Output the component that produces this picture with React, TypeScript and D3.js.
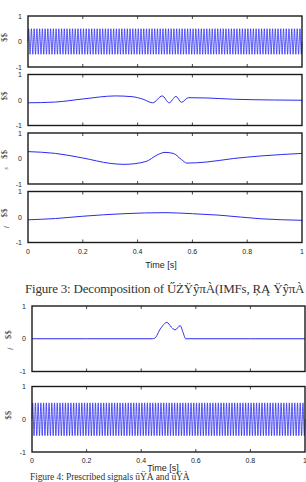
import * as d3 from 'd3';
import { useEffect } from 'react';

// values
const timeTicks = [0, 0.2, 0.4, 0.6, 0.8, 1];
const ampTicks = [-1, 0, 1];

// one period of the fast oscillation, and how many periods fit in 1 s
const carrierCycle = [0, 0.5, 0, -0.5];
const carrierPeriods = 100;

const imf2: [number, number][] = [
  [0, -0.11], [0.1, -0.08], [0.2, 0.04], [0.32, 0.16], [0.38, 0.13], [0.42, 0.03],
  [0.455, -0.11], [0.49, 0.16], [0.515, -0.11], [0.54, 0.14], [0.56, -0.09],
  [0.585, 0.09], [0.65, 0.08], [0.75, 0.03], [0.9, 0.0], [1, -0.01],
];

const imf3: [number, number][] = [
  [0, 0.27], [0.1, 0.2], [0.2, 0.02], [0.3, -0.19], [0.35, -0.23], [0.43, -0.12],
  [0.47, 0.13], [0.5, 0.24], [0.53, 0.2], [0.56, -0.04], [0.58, -0.18],
  [0.65, -0.14], [0.75, 0.0], [0.85, 0.1], [1, 0.2],
];

const trend: [number, number][] = [
  [0, -0.11], [0.1, -0.06], [0.2, 0.03], [0.35, 0.13], [0.5, 0.17],
  [0.6, 0.13], [0.7, 0.07], [0.85, -0.07], [1, -0.13],
];

const pulse: [number, number][] = [
  [0, 0], [0.2, 0], [0.44, 0], [0.45, 0.02], [0.47, 0.3], [0.494, 0.5],
  [0.51, 0.36], [0.524, 0.27], [0.543, 0.4], [0.553, 0.2], [0.563, 0], [0.8, 0], [1, 0],
];

const carrier: [number, number][] = d3
  .range(carrierPeriods * carrierCycle.length + 1)
  .map(i => [i / (carrierPeriods * carrierCycle.length), carrierCycle[i % carrierCycle.length]]);

type Panel = { top: number; data: [number, number][]; sub?: string };

const fig3Panels: Panel[] = [
  { top: 16, data: carrier },
  { top: 74.5, data: imf2 },
  { top: 133, data: imf3, sub: 's' },
  { top: 191.5, data: trend, sub: 'f' },
];
const fig4Panels: Panel[] = [
  { top: 306, data: pulse, sub: 'f' },
  { top: 386.5, data: carrier },
];

const axisFont = 'Liberation Sans, Arial, sans-serif';
const lineColor = '#2b2bf0';

function PanelView({ p, x0, x1, h, showX }: { p: Panel; x0: number; x1: number; h: number; showX: boolean }) {
  const x = d3.scaleLinear().domain([0, 1]).range([x0, x1]);
  const y = d3.scaleLinear().domain([-1, 1]).range([p.top + h, p.top]);
  const line = d3
    .line<[number, number]>()
    .x(d => x(d[0]))
    .y(d => y(d[1]))
    .curve(d3.curveMonotoneX);
  const dense = p.data.length > 100;
  const yMid = y(0);
  return (
    <g>
      <path d={line(p.data) ?? ''} fill="none" stroke={lineColor} strokeWidth={dense ? 0.8 : 1} />
      <rect x={x0} y={p.top} width={x1 - x0} height={h} fill="none" stroke="#1a1a1a" strokeWidth={1.4} />
      {timeTicks.slice(1, -1).map(t => (
        <g key={t}>
          <line x1={x(t)} x2={x(t)} y1={p.top} y2={p.top + 3} stroke="#1a1a1a" strokeWidth={0.8} />
          <line x1={x(t)} x2={x(t)} y1={p.top + h} y2={p.top + h - 3} stroke="#1a1a1a" strokeWidth={0.8} />
        </g>
      ))}
      {ampTicks.map(v => (
        <text key={v} x={x0 - 6} y={y(v) + 2.5} fontSize={7} fontFamily={axisFont} textAnchor="end" fill="#222">
          {v}
        </text>
      ))}
      <text
        transform={`translate(${x0 - 21},${yMid - 4}) rotate(-90)`}
        fontSize={9}
        fontFamily="Liberation Serif, serif"
        textAnchor="middle"
        fill="#444"
      >
        $$
      </text>
      {p.sub && (
        <text
          transform={`translate(${x0 - 20},${yMid + 10}) rotate(-90)`}
          fontSize={7}
          fontStyle="italic"
          fontFamily="Liberation Serif, serif"
          textAnchor="middle"
          fill="#666"
        >
          {p.sub}
        </text>
      )}
      {showX &&
        timeTicks.map(t => (
          <text key={t} x={x(t)} y={p.top + h + 11} fontSize={7} fontFamily={axisFont} textAnchor="middle" fill="#222">
            {t}
          </text>
        ))}
    </g>
  );
}

export default function App() {
  useEffect(() => {
    document.body.style.margin = '0';
  }, []);
  return (
    <svg width={306} height={482} style={{ display: 'block', background: '#fff' }}>
      {fig3Panels.map((p, i) => (
        <PanelView key={i} p={p} x0={28} x1={302} h={51} showX={i === fig3Panels.length - 1} />
      ))}
      <text x={161} y={268} fontSize={9} fontFamily={axisFont} textAnchor="middle" fill="#222">
        Time [s]
      </text>
      <text x={25} y={293} fontSize={13} fontFamily="Liberation Serif, serif" fill="#333" letterSpacing={-0.2}>
        Figure 3:  Decomposition of ŰŻŸŷπÀ(IMFs, ŖĄ ŸŷπÀ
      </text>

      {fig4Panels.map((p, i) => (
        <PanelView key={i} p={p} x0={32} x1={305} h={65.5} showX={i === fig4Panels.length - 1} />
      ))}
      <text x={163} y={471} fontSize={9} fontFamily={axisFont} textAnchor="middle" fill="#222">
        Time [s]
      </text>
      <text x={30} y={480} fontSize={9.5} fontFamily="Liberation Serif, serif" fill="#333" letterSpacing={-0.1}>
        Figure 4:  Prescribed signals ŭŸÀ and ŭŸÀ
      </text>
    </svg>
  );
}
